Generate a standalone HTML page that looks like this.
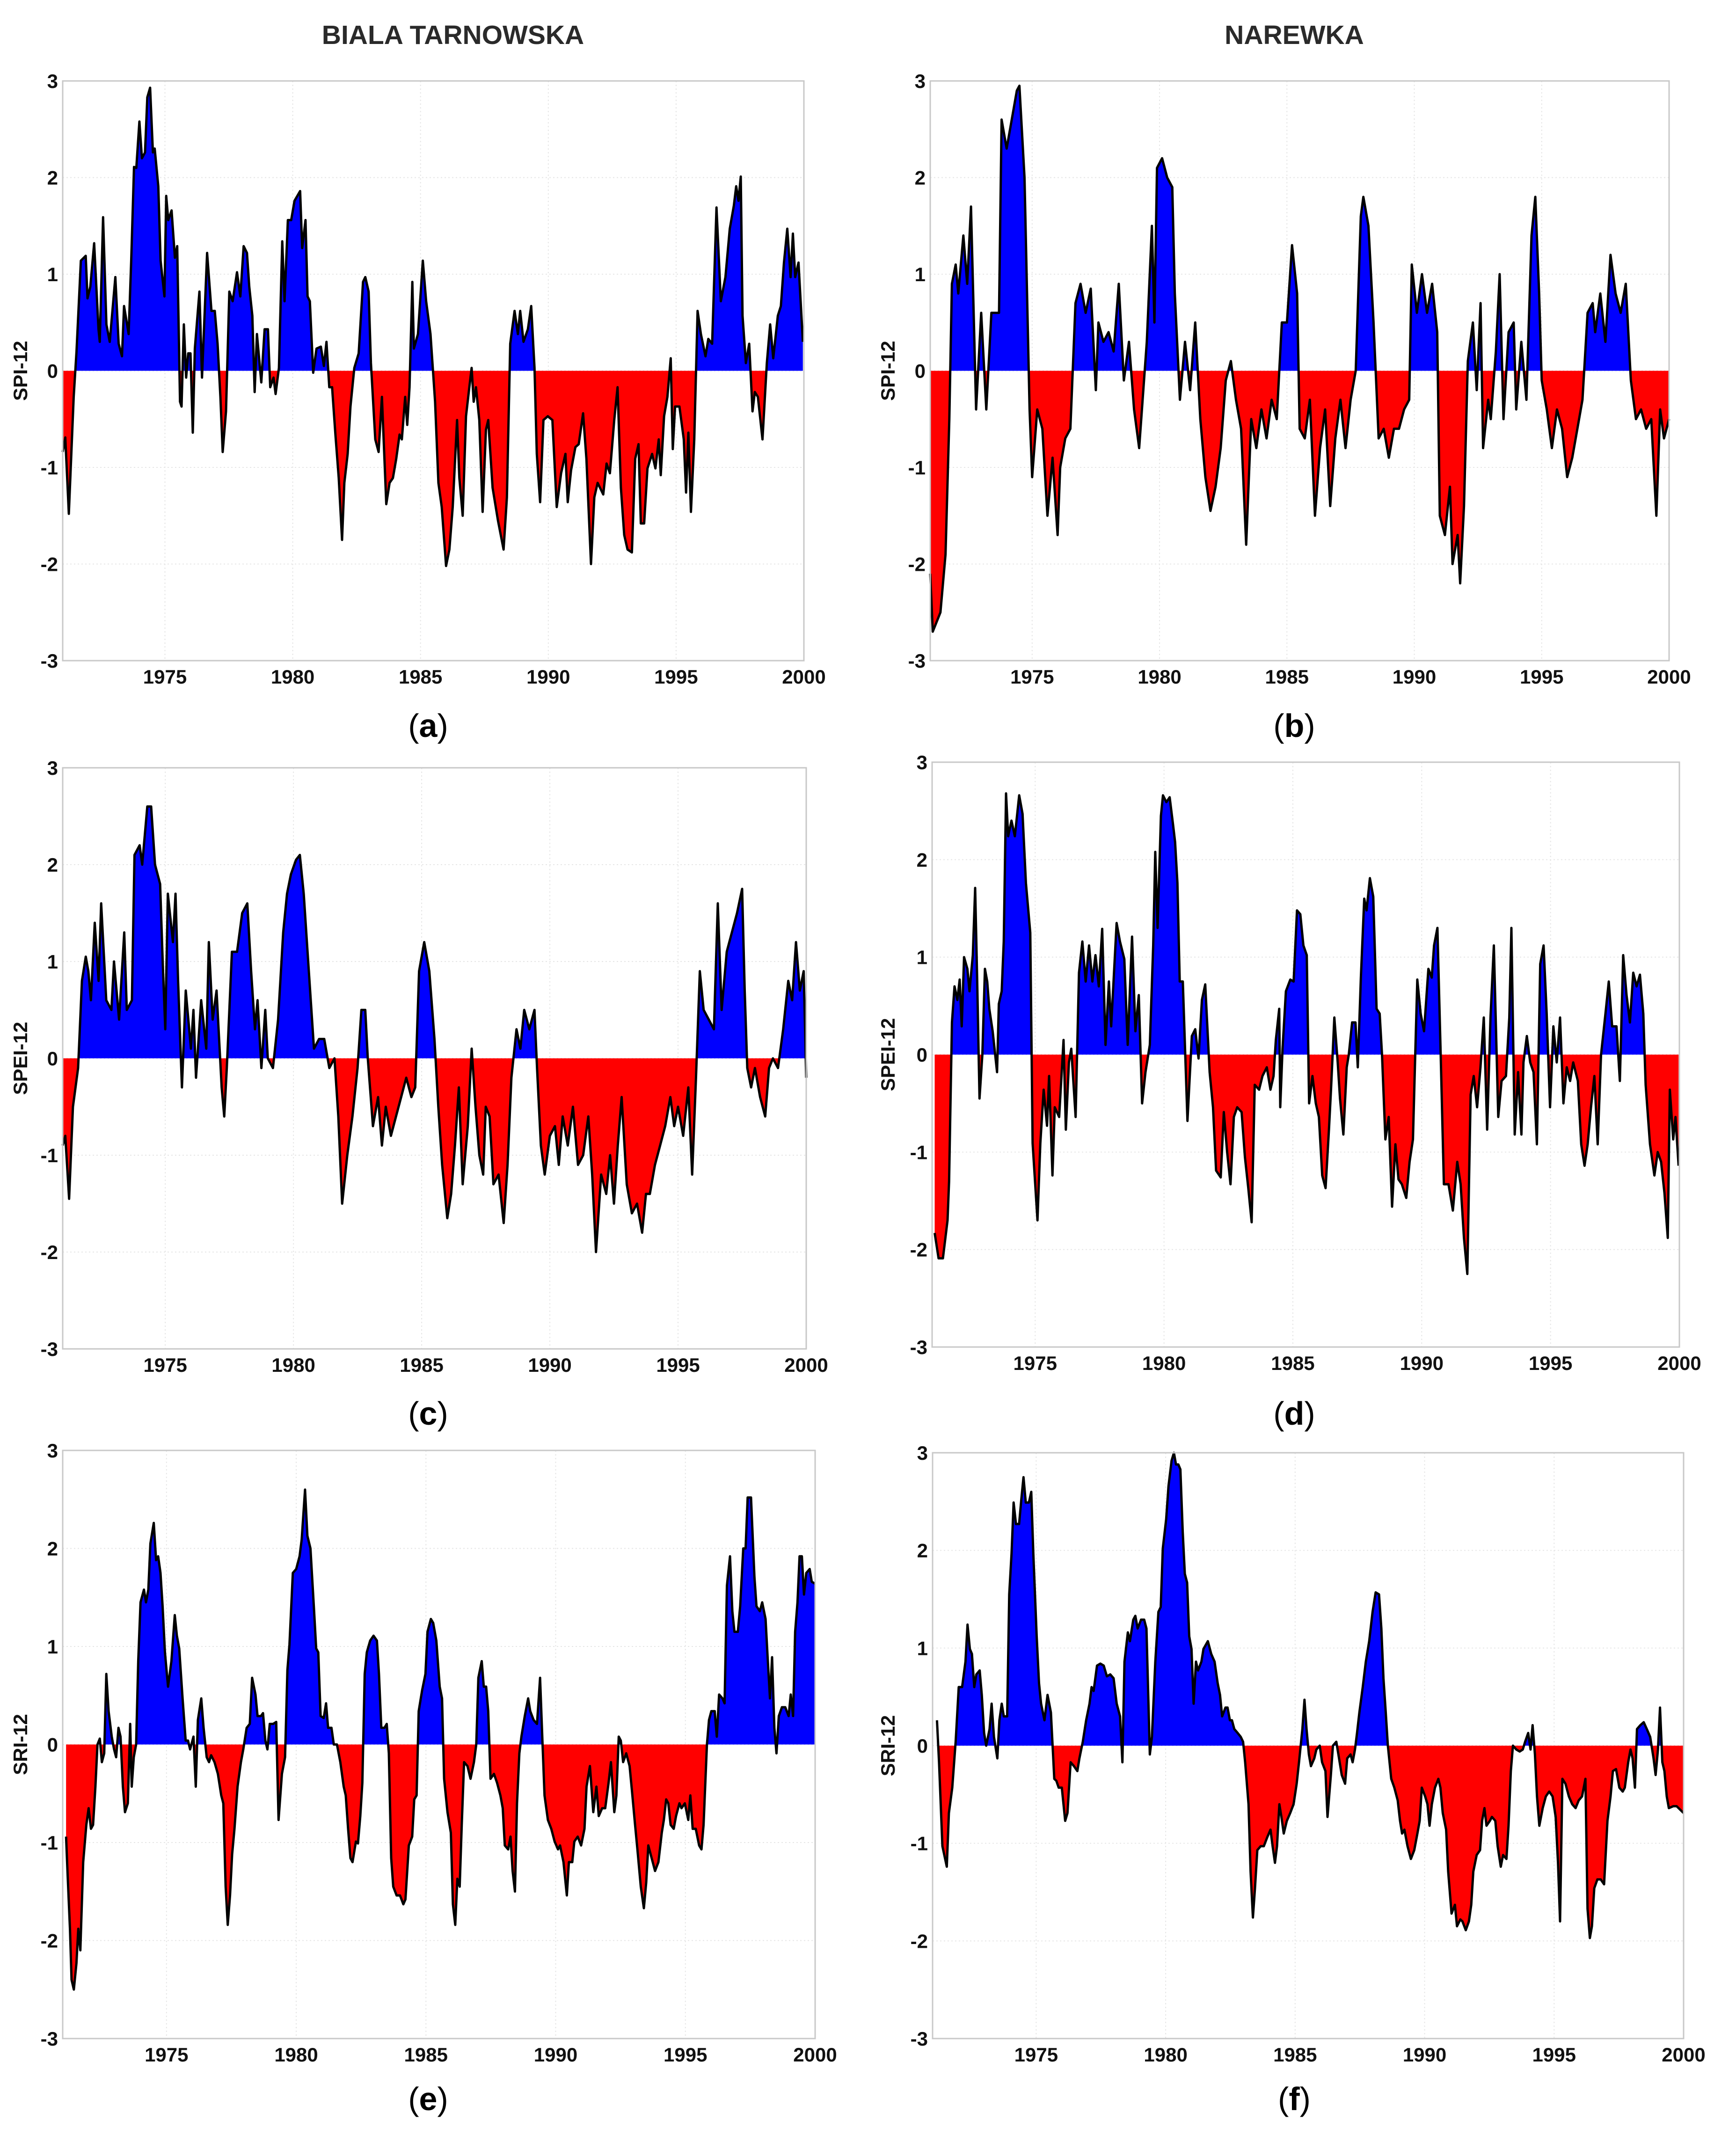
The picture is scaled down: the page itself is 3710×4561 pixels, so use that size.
<!DOCTYPE html>
<html><head><meta charset="utf-8">
<style>
html,body{margin:0;padding:0;background:#fff;}
svg{display:block;}
text{font-family:"Liberation Sans",Arial,sans-serif;}
</style></head>
<body>
<svg id="fig" width="3710" height="4561" viewBox="0 0 3710 4561" xmlns="http://www.w3.org/2000/svg">
<rect x="0" y="0" width="3710" height="4561" fill="#fff"/>
<text x="968" y="94" text-anchor="middle" font-size="57" font-weight="bold" fill="#2a2a2a">BIALA TARNOWSKA</text>
<text x="2766" y="94" text-anchor="middle" font-size="57" font-weight="bold" fill="#2a2a2a">NAREWKA</text>
</svg>
<script>
// ---- data (time in decimal years, index values) ----
const aT=[1971.0,1971.1,1971.24,1971.43,1971.54,1971.71,1971.9,1971.97,1972.08,1972.23,1972.4,1972.45,1972.58,1972.71,1972.84,1973.06,1973.19,1973.32,1973.4,1973.58,1973.68,1973.79,1973.88,1974.0,1974.1,1974.22,1974.31,1974.42,1974.53,1974.6,1974.74,1974.83,1974.98,1975.05,1975.13,1975.26,1975.39,1975.48,1975.59,1975.65,1975.74,1975.83,1975.91,1976.0,1976.09,1976.17,1976.35,1976.45,1976.65,1976.82,1976.95,1977.06,1977.17,1977.26,1977.39,1977.52,1977.65,1977.82,1977.95,1978.08,1978.21,1978.3,1978.42,1978.51,1978.6,1978.77,1978.9,1979.03,1979.12,1979.25,1979.33,1979.46,1979.59,1979.68,1979.81,1979.94,1980.07,1980.29,1980.37,1980.5,1980.58,1980.67,1980.8,1980.93,1981.1,1981.22,1981.32,1981.43,1981.54,1981.67,1981.8,1981.93,1982.02,1982.15,1982.26,1982.41,1982.58,1982.75,1982.84,1982.97,1983.06,1983.23,1983.36,1983.49,1983.66,1983.79,1983.92,1984.05,1984.18,1984.27,1984.4,1984.48,1984.57,1984.68,1984.74,1984.9,1985.09,1985.22,1985.39,1985.57,1985.7,1985.83,1986.0,1986.13,1986.26,1986.43,1986.52,1986.65,1986.78,1986.91,1987.0,1987.08,1987.17,1987.3,1987.43,1987.56,1987.65,1987.82,1988.03,1988.25,1988.38,1988.51,1988.68,1988.81,1988.9,1989.03,1989.2,1989.33,1989.46,1989.55,1989.68,1989.81,1989.98,1990.16,1990.33,1990.5,1990.67,1990.76,1990.89,1991.06,1991.19,1991.36,1991.49,1991.67,1991.8,1991.93,1992.15,1992.28,1992.41,1992.58,1992.71,1992.84,1992.97,1993.1,1993.27,1993.4,1993.53,1993.62,1993.75,1993.88,1994.06,1994.19,1994.32,1994.4,1994.53,1994.66,1994.79,1994.87,1994.96,1995.13,1995.3,1995.39,1995.48,1995.58,1995.71,1995.84,1995.97,1996.15,1996.26,1996.41,1996.58,1996.75,1996.93,1997.1,1997.26,1997.35,1997.44,1997.53,1997.6,1997.73,1997.86,1997.99,1998.08,1998.2,1998.38,1998.55,1998.68,1998.8,1998.98,1999.1,1999.22,1999.35,1999.48,1999.57,1999.66,1999.79,1999.96];
const aV=[-0.84,-0.69,-1.48,-0.27,0.2,1.14,1.19,0.75,0.87,1.32,0.43,0.3,1.59,0.48,0.3,0.97,0.28,0.15,0.67,0.38,1.14,2.11,2.1,2.58,2.2,2.26,2.83,2.93,2.26,2.3,1.91,1.14,0.77,1.81,1.56,1.66,1.17,1.29,-0.32,-0.37,0.48,-0.07,0.18,0.18,-0.64,0.23,0.82,-0.07,1.22,0.62,0.62,0.28,-0.27,-0.84,-0.42,0.82,0.72,1.02,0.77,1.29,1.22,0.87,0.57,-0.22,0.38,-0.12,0.43,0.43,-0.17,-0.07,-0.24,0.03,1.34,0.72,1.56,1.56,1.76,1.86,1.27,1.56,0.77,0.72,-0.02,0.23,0.25,0.05,0.3,-0.17,-0.17,-0.66,-1.11,-1.75,-1.16,-0.86,-0.37,0.03,0.18,0.92,0.97,0.82,0.08,-0.71,-0.84,-0.27,-1.38,-1.16,-1.11,-0.91,-0.66,-0.71,-0.27,-0.56,-0.17,0.92,0.23,0.38,1.14,0.72,0.38,-0.32,-1.16,-1.41,-2.02,-1.85,-1.41,-0.51,-1.11,-1.5,-0.47,-0.17,0.03,-0.32,-0.17,-0.51,-1.46,-0.61,-0.51,-1.21,-1.55,-1.85,-1.31,0.28,0.62,0.38,0.62,0.3,0.43,0.67,0.03,-0.86,-1.36,-0.51,-0.47,-0.51,-1.41,-1.06,-0.86,-1.36,-1.03,-0.79,-0.76,-0.44,-0.91,-2.0,-1.31,-1.16,-1.28,-0.96,-1.06,-0.51,-0.17,-1.21,-1.7,-1.85,-1.88,-0.91,-0.76,-1.58,-1.58,-1.01,-0.86,-1.01,-0.71,-1.08,-0.47,-0.27,0.13,-0.81,-0.37,-0.37,-0.71,-1.26,-0.64,-1.46,-0.71,0.62,0.38,0.15,0.33,0.28,1.69,0.72,0.97,1.47,1.71,1.91,1.76,2.01,0.57,0.08,0.28,-0.42,-0.22,-0.27,-0.71,0.08,0.48,0.13,0.57,0.67,1.12,1.47,0.97,1.42,0.97,1.12,0.3];

const bT=[1971.0,1971.1,1971.4,1971.6,1971.75,1971.85,1972.0,1972.1,1972.3,1972.45,1972.6,1972.8,1973.0,1973.2,1973.4,1973.7,1973.8,1974.0,1974.2,1974.4,1974.5,1974.7,1974.9,1975.0,1975.2,1975.4,1975.6,1975.8,1976.0,1976.1,1976.3,1976.5,1976.7,1976.9,1977.1,1977.3,1977.5,1977.6,1977.8,1978.0,1978.2,1978.4,1978.6,1978.8,1979.0,1979.2,1979.5,1979.7,1979.8,1979.9,1980.1,1980.3,1980.5,1980.6,1980.8,1981.0,1981.2,1981.4,1981.6,1981.8,1982.0,1982.2,1982.4,1982.6,1982.8,1983.0,1983.2,1983.4,1983.6,1983.8,1984.0,1984.2,1984.4,1984.6,1984.8,1985.0,1985.2,1985.4,1985.5,1985.7,1985.9,1986.1,1986.3,1986.5,1986.7,1986.9,1987.1,1987.3,1987.5,1987.7,1987.9,1988.0,1988.2,1988.4,1988.6,1988.8,1989.0,1989.2,1989.4,1989.6,1989.8,1989.9,1990.1,1990.3,1990.5,1990.7,1990.9,1991.0,1991.2,1991.4,1991.5,1991.7,1991.8,1991.95,1992.1,1992.3,1992.45,1992.6,1992.7,1992.9,1993.0,1993.2,1993.35,1993.5,1993.7,1993.9,1994.0,1994.2,1994.4,1994.6,1994.75,1994.9,1995.0,1995.2,1995.4,1995.6,1995.8,1996.0,1996.2,1996.4,1996.6,1996.8,1997.0,1997.1,1997.3,1997.5,1997.7,1997.9,1998.1,1998.3,1998.5,1998.7,1998.9,1999.1,1999.3,1999.5,1999.65,1999.8,2000.0];
const bV=[-2.1,-2.7,-2.5,-1.9,-0.5,0.9,1.1,0.8,1.4,0.9,1.7,-0.4,0.6,-0.4,0.6,0.6,2.6,2.3,2.6,2.9,2.95,2.0,-0.4,-1.1,-0.4,-0.6,-1.5,-0.9,-1.7,-1.0,-0.7,-0.6,0.7,0.9,0.6,0.85,-0.2,0.5,0.3,0.4,0.2,0.9,-0.1,0.3,-0.4,-0.8,0.3,1.5,0.5,2.1,2.2,2.0,1.9,0.8,-0.3,0.3,-0.2,0.5,-0.5,-1.1,-1.45,-1.2,-0.8,-0.1,0.1,-0.3,-0.6,-1.8,-0.5,-0.8,-0.4,-0.7,-0.3,-0.5,0.5,0.5,1.3,0.8,-0.6,-0.7,-0.3,-1.5,-0.8,-0.4,-1.4,-0.7,-0.3,-0.8,-0.3,0.0,1.6,1.8,1.5,0.5,-0.7,-0.6,-0.9,-0.6,-0.6,-0.4,-0.3,1.1,0.6,1.0,0.6,0.9,0.4,-1.5,-1.7,-1.2,-2.0,-1.7,-2.2,-1.4,0.1,0.5,-0.2,0.7,-0.8,-0.3,-0.5,0.2,1.0,-0.5,0.4,0.5,-0.4,0.3,-0.3,1.4,1.8,0.8,-0.1,-0.4,-0.8,-0.4,-0.6,-1.1,-0.9,-0.6,-0.3,0.6,0.7,0.4,0.8,0.3,1.2,0.8,0.6,0.9,-0.1,-0.5,-0.4,-0.6,-0.5,-1.5,-0.4,-0.7,-0.5];

const cT=[1971.0,1971.1,1971.25,1971.4,1971.6,1971.75,1971.9,1972.0,1972.1,1972.25,1972.4,1972.5,1972.7,1972.9,1973.0,1973.2,1973.4,1973.5,1973.7,1973.8,1974.0,1974.1,1974.3,1974.45,1974.6,1974.8,1974.9,1975.0,1975.1,1975.3,1975.4,1975.5,1975.65,1975.8,1976.0,1976.1,1976.2,1976.4,1976.6,1976.7,1976.85,1977.0,1977.2,1977.3,1977.4,1977.6,1977.8,1978.0,1978.2,1978.35,1978.5,1978.6,1978.75,1978.9,1979.0,1979.2,1979.4,1979.6,1979.75,1979.9,1980.1,1980.25,1980.4,1980.6,1980.8,1981.0,1981.2,1981.4,1981.6,1981.75,1981.9,1982.1,1982.3,1982.5,1982.65,1982.8,1982.9,1983.1,1983.3,1983.45,1983.6,1983.8,1984.0,1984.2,1984.4,1984.6,1984.75,1984.9,1985.1,1985.3,1985.5,1985.65,1985.8,1986.0,1986.15,1986.3,1986.45,1986.6,1986.8,1986.95,1987.1,1987.25,1987.4,1987.5,1987.65,1987.8,1988.0,1988.2,1988.35,1988.5,1988.7,1988.85,1989.0,1989.2,1989.4,1989.5,1989.65,1989.8,1990.0,1990.2,1990.35,1990.5,1990.7,1990.9,1991.1,1991.3,1991.5,1991.65,1991.8,1992.0,1992.2,1992.35,1992.5,1992.65,1992.8,1993.0,1993.2,1993.4,1993.6,1993.75,1993.9,1994.1,1994.3,1994.5,1994.7,1994.85,1995.0,1995.2,1995.4,1995.55,1995.7,1995.85,1996.0,1996.2,1996.4,1996.55,1996.7,1996.9,1997.1,1997.3,1997.5,1997.6,1997.7,1997.85,1998.0,1998.2,1998.4,1998.55,1998.7,1998.9,1999.1,1999.3,1999.45,1999.6,1999.75,1999.9,2000.0];
const cV=[-0.9,-0.8,-1.45,-0.5,-0.1,0.8,1.05,0.9,0.6,1.4,0.8,1.6,0.6,0.5,1.0,0.4,1.3,0.5,0.6,2.1,2.2,2.0,2.6,2.6,2.0,1.8,1.0,0.3,1.7,1.2,1.7,0.8,-0.3,0.7,0.1,0.5,-0.2,0.6,0.1,1.2,0.4,0.7,-0.3,-0.6,-0.1,1.1,1.1,1.5,1.6,0.9,0.3,0.6,-0.1,0.5,0.0,-0.1,0.4,1.3,1.7,1.9,2.05,2.1,1.7,0.9,0.1,0.2,0.2,-0.1,0.0,-0.6,-1.5,-1.0,-0.6,-0.1,0.5,0.5,0.0,-0.7,-0.4,-0.9,-0.5,-0.8,-0.6,-0.4,-0.2,-0.4,-0.3,0.9,1.2,0.9,0.2,-0.5,-1.1,-1.65,-1.4,-0.9,-0.3,-1.3,-0.7,0.1,-0.5,-1.0,-1.2,-0.5,-0.6,-1.3,-1.2,-1.7,-1.1,-0.2,0.3,0.1,0.5,0.3,0.5,-0.1,-0.9,-1.2,-0.8,-0.7,-1.1,-0.6,-0.9,-0.5,-1.1,-1.0,-0.6,-1.2,-2.0,-1.2,-1.4,-1.0,-1.5,-0.9,-0.4,-1.3,-1.6,-1.5,-1.8,-1.4,-1.4,-1.1,-0.9,-0.7,-0.4,-0.7,-0.5,-0.8,-0.3,-1.2,-0.2,0.9,0.5,0.4,0.3,1.6,0.5,1.1,1.3,1.5,1.75,0.7,-0.1,-0.3,-0.1,-0.4,-0.6,-0.1,0.0,-0.1,0.3,0.8,0.6,1.2,0.7,0.9,-0.2];

const dT=[1971.1,1971.25,1971.42,1971.6,1971.66,1971.77,1971.87,1971.98,1972.07,1972.15,1972.24,1972.37,1972.45,1972.58,1972.67,1972.75,1972.84,1972.95,1973.05,1973.14,1973.22,1973.35,1973.52,1973.59,1973.7,1973.78,1973.87,1973.95,1974.08,1974.21,1974.38,1974.51,1974.64,1974.81,1974.9,1975.09,1975.2,1975.33,1975.46,1975.54,1975.67,1975.76,1975.93,1976.1,1976.19,1976.31,1976.4,1976.57,1976.7,1976.83,1976.96,1977.09,1977.22,1977.34,1977.47,1977.6,1977.73,1977.86,1977.95,1978.16,1978.29,1978.46,1978.59,1978.76,1978.89,1979.02,1979.15,1979.28,1979.45,1979.58,1979.66,1979.75,1979.88,1979.96,1980.09,1980.22,1980.35,1980.43,1980.52,1980.61,1980.73,1980.91,1981.08,1981.21,1981.34,1981.47,1981.6,1981.77,1981.9,1982.02,1982.2,1982.32,1982.45,1982.58,1982.71,1982.84,1983.01,1983.14,1983.27,1983.4,1983.52,1983.69,1983.82,1983.99,1984.13,1984.25,1984.34,1984.47,1984.51,1984.6,1984.73,1984.9,1985.03,1985.16,1985.29,1985.41,1985.54,1985.63,1985.76,1985.89,1986.01,1986.14,1986.27,1986.4,1986.48,1986.61,1986.74,1986.83,1986.96,1987.09,1987.17,1987.3,1987.43,1987.52,1987.64,1987.77,1987.86,1987.99,1988.12,1988.25,1988.37,1988.46,1988.59,1988.72,1988.85,1988.98,1989.1,1989.23,1989.4,1989.53,1989.66,1989.75,1989.83,1989.96,1990.09,1990.26,1990.39,1990.48,1990.61,1990.74,1990.86,1991.04,1991.21,1991.38,1991.51,1991.64,1991.77,1991.9,1992.02,1992.15,1992.28,1992.41,1992.54,1992.67,1992.8,1992.97,1993.1,1993.27,1993.4,1993.48,1993.61,1993.74,1993.87,1993.95,1994.08,1994.21,1994.34,1994.47,1994.6,1994.73,1994.85,1994.98,1995.11,1995.24,1995.37,1995.5,1995.63,1995.76,1995.88,1996.06,1996.19,1996.32,1996.44,1996.57,1996.7,1996.83,1996.96,1997.13,1997.26,1997.39,1997.56,1997.69,1997.82,1997.95,1998.08,1998.21,1998.34,1998.47,1998.6,1998.69,1998.86,1999.03,1999.16,1999.29,1999.42,1999.55,1999.63,1999.76,1999.85,1999.97];
const dV=[-1.83,-2.09,-2.09,-1.7,-1.3,0.33,0.7,0.56,0.77,0.29,1.0,0.88,0.65,1.02,1.71,0.75,-0.45,0.0,0.88,0.75,0.47,0.24,-0.18,0.52,0.65,1.16,2.68,2.24,2.4,2.24,2.66,2.47,1.76,1.25,-0.91,-1.7,-0.91,-0.36,-0.73,-0.22,-1.24,-0.54,-0.64,0.15,-0.77,-0.08,0.06,-0.64,0.84,1.16,0.75,1.12,0.75,1.02,0.7,1.29,0.1,0.75,0.29,1.35,1.16,0.98,0.1,1.21,0.24,0.61,-0.5,-0.18,0.1,1.12,2.08,1.3,2.45,2.66,2.59,2.64,2.36,2.18,1.76,0.75,0.75,-0.68,0.19,0.26,-0.04,0.56,0.72,-0.18,-0.54,-1.19,-1.26,-0.59,-1.0,-1.33,-0.64,-0.54,-0.59,-1.05,-1.37,-1.72,-0.31,-0.36,-0.22,-0.13,-0.36,-0.22,0.15,0.47,-0.54,0.06,0.65,0.77,0.75,1.48,1.44,1.12,1.02,-0.5,-0.22,-0.5,-0.64,-1.24,-1.37,-0.77,-0.36,0.38,-0.08,-0.45,-0.82,-0.13,0.0,0.33,0.33,-0.13,0.79,1.6,1.48,1.81,1.62,0.47,0.42,0.0,-0.87,-0.64,-1.56,-0.92,-1.28,-1.33,-1.47,-1.1,-0.87,0.0,0.77,0.42,0.24,0.88,0.79,1.12,1.3,-0.04,-1.33,-1.33,-1.6,-1.1,-1.33,-1.88,-2.25,-0.41,-0.22,-0.54,-0.13,0.38,-0.77,0.38,1.12,-0.64,-0.27,-0.22,0.38,1.3,-0.82,-0.18,-0.82,-0.08,0.19,-0.08,-0.18,-0.92,0.93,1.12,0.42,-0.54,0.29,-0.08,0.38,-0.5,-0.13,-0.27,-0.08,-0.27,-0.92,-1.14,-0.92,-0.54,-0.22,-0.92,0.0,0.42,0.75,0.29,0.29,-0.27,1.02,0.61,0.33,0.84,0.7,0.82,0.42,-0.31,-0.92,-1.24,-1.0,-1.1,-1.42,-1.88,-0.36,-0.87,-0.64,-1.14];

const eT=[1971.13,1971.19,1971.28,1971.34,1971.43,1971.53,1971.6,1971.68,1971.79,1971.91,1972.0,1972.09,1972.17,1972.26,1972.34,1972.43,1972.51,1972.6,1972.68,1972.77,1972.89,1972.98,1973.06,1973.15,1973.23,1973.32,1973.4,1973.51,1973.6,1973.66,1973.74,1973.83,1973.91,1974.0,1974.13,1974.21,1974.3,1974.38,1974.51,1974.6,1974.68,1974.77,1974.85,1974.94,1975.06,1975.19,1975.32,1975.4,1975.49,1975.62,1975.74,1975.83,1975.91,1976.04,1976.13,1976.21,1976.34,1976.43,1976.55,1976.64,1976.72,1976.85,1976.98,1977.11,1977.19,1977.28,1977.36,1977.45,1977.53,1977.62,1977.74,1977.87,1977.96,1978.09,1978.21,1978.3,1978.43,1978.51,1978.64,1978.72,1978.81,1978.89,1978.98,1979.11,1979.23,1979.32,1979.45,1979.57,1979.66,1979.74,1979.87,1980.0,1980.13,1980.21,1980.34,1980.43,1980.55,1980.68,1980.77,1980.85,1980.94,1981.06,1981.15,1981.23,1981.36,1981.45,1981.57,1981.7,1981.83,1981.91,1982.0,1982.09,1982.17,1982.3,1982.38,1982.47,1982.55,1982.64,1982.72,1982.85,1982.98,1983.11,1983.19,1983.28,1983.4,1983.49,1983.57,1983.66,1983.74,1983.87,1984.0,1984.13,1984.21,1984.34,1984.47,1984.55,1984.64,1984.72,1984.85,1984.98,1985.06,1985.19,1985.28,1985.4,1985.53,1985.62,1985.7,1985.83,1985.96,1986.04,1986.13,1986.21,1986.3,1986.38,1986.47,1986.6,1986.72,1986.85,1986.94,1987.02,1987.15,1987.23,1987.32,1987.4,1987.49,1987.62,1987.74,1987.87,1987.96,1988.04,1988.17,1988.26,1988.34,1988.43,1988.51,1988.6,1988.68,1988.81,1988.94,1989.02,1989.15,1989.28,1989.4,1989.49,1989.57,1989.7,1989.83,1989.96,1990.09,1990.17,1990.3,1990.43,1990.51,1990.64,1990.72,1990.85,1990.98,1991.11,1991.19,1991.32,1991.45,1991.57,1991.66,1991.79,1991.91,1992.04,1992.13,1992.26,1992.34,1992.43,1992.51,1992.6,1992.72,1992.85,1992.94,1993.06,1993.15,1993.28,1993.4,1993.49,1993.57,1993.7,1993.83,1993.96,1994.09,1994.17,1994.26,1994.34,1994.43,1994.55,1994.64,1994.77,1994.85,1994.98,1995.11,1995.19,1995.28,1995.4,1995.53,1995.62,1995.7,1995.83,1995.91,1996.0,1996.13,1996.21,1996.3,1996.43,1996.51,1996.6,1996.72,1996.81,1996.89,1997.02,1997.11,1997.23,1997.32,1997.4,1997.53,1997.66,1997.74,1997.87,1997.96,1998.09,1998.17,1998.26,1998.34,1998.43,1998.51,1998.6,1998.72,1998.85,1998.98,1999.06,1999.15,1999.23,1999.32,1999.4,1999.49,1999.57,1999.66,1999.79,1999.87,2000.0];
const eV=[-0.94,-1.33,-1.88,-2.4,-2.5,-2.23,-1.88,-2.1,-1.2,-0.82,-0.65,-0.86,-0.82,-0.43,0.0,0.06,-0.18,-0.09,0.72,0.34,0.08,-0.05,-0.13,0.17,0.08,-0.43,-0.69,-0.6,0.21,-0.43,-0.13,0.0,0.85,1.45,1.58,1.45,1.58,2.05,2.26,1.88,1.92,1.75,1.41,0.94,0.59,0.85,1.32,1.11,0.98,0.47,0.04,0.04,-0.05,0.08,-0.43,0.25,0.47,0.17,-0.13,-0.18,-0.11,-0.18,-0.3,-0.52,-0.6,-1.45,-1.84,-1.54,-1.12,-0.86,-0.43,-0.18,-0.05,0.17,0.21,0.68,0.51,0.29,0.29,0.32,0.04,-0.05,0.21,0.21,0.23,-0.77,-0.3,-0.13,0.76,1.02,1.75,1.79,1.92,2.09,2.6,2.13,2.0,1.41,0.98,0.94,0.29,0.27,0.42,0.17,0.17,0.0,0.0,-0.18,-0.43,-0.52,-0.86,-1.16,-1.2,-0.99,-1.01,-0.73,-0.39,0.72,0.94,1.06,1.11,1.06,0.72,0.17,0.17,0.21,-0.09,-1.16,-1.45,-1.54,-1.54,-1.63,-1.58,-1.03,-0.94,-0.56,-0.52,0.34,0.55,0.72,1.15,1.28,1.24,1.06,0.59,0.47,-0.35,-0.69,-0.9,-1.63,-1.84,-1.37,-1.45,-0.82,-0.18,-0.22,-0.35,-0.18,0.0,0.68,0.85,0.59,0.59,0.34,-0.35,-0.3,-0.39,-0.52,-0.65,-1.03,-1.07,-0.94,-1.29,-1.5,-0.6,-0.09,0.08,0.29,0.47,0.34,0.25,0.21,0.68,0.04,-0.52,-0.77,-0.86,-0.99,-1.07,-1.03,-1.2,-1.54,-1.2,-1.2,-0.99,-0.94,-1.03,-0.86,-0.43,-0.22,-0.69,-0.43,-0.73,-0.65,-0.65,-0.39,-0.18,-0.69,-0.52,0.08,0.04,-0.18,-0.09,-0.22,-0.47,-0.82,-1.07,-1.45,-1.67,-1.41,-1.03,-1.16,-1.29,-1.2,-0.9,-0.77,-0.56,-0.6,-0.82,-0.86,-0.73,-0.6,-0.65,-0.6,-0.77,-0.52,-0.86,-0.86,-1.03,-1.07,-0.82,0.0,0.25,0.34,0.34,0.08,0.51,0.47,0.42,1.62,1.92,1.36,1.15,1.15,1.41,2.0,2.0,2.52,2.52,1.71,1.41,1.36,1.45,1.28,0.89,0.47,0.89,0.17,-0.09,0.29,0.38,0.38,0.29,0.51,0.29,1.15,1.45,1.92,1.92,1.53,1.75,1.79,1.66,1.64];

const fT=[1971.17,1971.25,1971.38,1971.55,1971.63,1971.76,1971.89,1972.01,1972.14,1972.27,1972.35,1972.44,1972.52,1972.61,1972.69,1972.82,1972.9,1972.99,1973.07,1973.2,1973.28,1973.37,1973.5,1973.58,1973.67,1973.75,1973.88,1973.96,1974.05,1974.13,1974.22,1974.34,1974.43,1974.51,1974.6,1974.72,1974.81,1974.89,1975.02,1975.11,1975.19,1975.32,1975.44,1975.57,1975.7,1975.78,1975.87,1975.99,1976.12,1976.21,1976.33,1976.46,1976.59,1976.67,1976.8,1976.93,1977.06,1977.14,1977.22,1977.35,1977.48,1977.61,1977.73,1977.86,1977.99,1978.11,1978.24,1978.33,1978.41,1978.54,1978.62,1978.75,1978.83,1978.92,1979.05,1979.17,1979.26,1979.39,1979.47,1979.6,1979.72,1979.81,1979.89,1980.02,1980.11,1980.23,1980.32,1980.4,1980.49,1980.57,1980.66,1980.74,1980.83,1980.91,1981.0,1981.08,1981.17,1981.25,1981.38,1981.46,1981.63,1981.76,1981.89,1982.01,1982.1,1982.18,1982.31,1982.39,1982.48,1982.56,1982.65,1982.78,1982.9,1982.99,1983.07,1983.2,1983.28,1983.37,1983.45,1983.54,1983.67,1983.79,1983.92,1984.05,1984.13,1984.22,1984.3,1984.39,1984.47,1984.56,1984.68,1984.81,1984.94,1985.06,1985.15,1985.28,1985.36,1985.44,1985.53,1985.61,1985.74,1985.82,1985.95,1986.04,1986.17,1986.25,1986.38,1986.46,1986.59,1986.67,1986.8,1986.93,1987.01,1987.14,1987.22,1987.31,1987.39,1987.48,1987.61,1987.73,1987.86,1987.99,1988.11,1988.24,1988.33,1988.41,1988.5,1988.58,1988.71,1988.83,1988.96,1989.05,1989.13,1989.22,1989.34,1989.47,1989.6,1989.72,1989.81,1989.89,1990.02,1990.11,1990.19,1990.28,1990.4,1990.53,1990.61,1990.7,1990.83,1990.91,1991.04,1991.17,1991.25,1991.38,1991.46,1991.59,1991.71,1991.8,1991.88,1992.01,1992.14,1992.22,1992.31,1992.39,1992.52,1992.6,1992.73,1992.82,1992.94,1993.03,1993.16,1993.24,1993.33,1993.41,1993.54,1993.67,1993.79,1993.88,1994.0,1994.09,1994.17,1994.26,1994.34,1994.43,1994.56,1994.68,1994.81,1994.94,1995.06,1995.15,1995.23,1995.32,1995.44,1995.57,1995.7,1995.83,1995.95,1996.08,1996.21,1996.29,1996.38,1996.46,1996.55,1996.67,1996.8,1996.93,1997.06,1997.18,1997.27,1997.39,1997.52,1997.65,1997.73,1997.86,1997.95,1998.03,1998.12,1998.2,1998.33,1998.46,1998.58,1998.71,1998.84,1998.92,1999.01,1999.09,1999.18,1999.26,1999.35,1999.43,1999.6,1999.73,2000.0];
const fV=[0.26,-0.17,-1.03,-1.24,-0.69,-0.43,0.04,0.6,0.6,0.86,1.24,0.99,0.94,0.6,0.73,0.77,0.52,0.13,0.0,0.17,0.43,0.09,-0.13,0.26,0.43,0.3,0.3,1.55,1.97,2.49,2.27,2.27,2.53,2.75,2.49,2.49,2.6,1.97,1.12,0.64,0.43,0.26,0.52,0.34,-0.34,-0.36,-0.43,-0.43,-0.77,-0.69,-0.17,-0.21,-0.26,-0.13,0.04,0.26,0.43,0.6,0.56,0.82,0.84,0.82,0.71,0.73,0.69,0.43,0.3,-0.17,0.86,1.16,1.07,1.29,1.33,1.2,1.29,1.29,1.2,-0.09,0.09,0.86,1.37,1.42,2.02,2.32,2.66,2.92,3.0,2.88,2.88,2.83,2.19,1.76,1.67,1.12,0.99,0.43,0.86,0.77,0.86,0.99,1.07,0.94,0.86,0.64,0.52,0.3,0.39,0.39,0.26,0.26,0.17,0.13,0.09,0.04,-0.17,-0.6,-1.29,-1.76,-1.46,-1.07,-1.03,-1.03,-0.94,-0.86,-1.03,-1.2,-1.03,-0.6,-0.73,-0.9,-0.77,-0.69,-0.6,-0.39,-0.17,0.17,0.47,0.17,-0.09,-0.21,-0.13,-0.04,0.0,-0.17,-0.26,-0.73,-0.3,0.0,0.04,-0.09,-0.3,-0.39,-0.13,-0.09,-0.17,-0.04,0.13,0.34,0.6,0.86,1.07,1.37,1.57,1.55,1.2,0.69,0.34,0.0,-0.34,-0.43,-0.56,-0.77,-0.9,-0.86,-1.03,-1.16,-1.07,-0.9,-0.77,-0.43,-0.52,-0.6,-0.82,-0.6,-0.43,-0.34,-0.43,-0.69,-0.86,-1.29,-1.72,-1.63,-1.85,-1.78,-1.8,-1.89,-1.8,-1.63,-1.29,-1.12,-1.07,-0.77,-0.64,-0.82,-0.77,-0.73,-0.77,-1.03,-1.24,-1.12,-1.16,-0.82,-0.26,0.0,-0.04,-0.06,-0.04,0.04,0.13,-0.04,0.21,-0.09,-0.52,-0.82,-0.64,-0.52,-0.47,-0.52,-0.73,-1.2,-1.8,-0.34,-0.39,-0.52,-0.6,-0.64,-0.56,-0.52,-0.34,-1.67,-1.97,-1.85,-1.46,-1.37,-1.37,-1.42,-0.77,-0.52,-0.26,-0.24,-0.43,-0.47,-0.43,-0.17,-0.04,-0.13,-0.43,0.17,0.21,0.24,0.17,0.09,-0.13,-0.3,-0.04,0.39,-0.17,-0.26,-0.52,-0.64,-0.62,-0.62,-0.69];

const yTicks=[-3,-2,-1,0,1,2,3];
const xTicks=[1975,1980,1985,1990,1995,2000];
const xTickLabels=["1975","1980","1985","1990","1995","2000"];

const NS='http://www.w3.org/2000/svg';
const svg=document.getElementById('fig');
function mk(tag,attrs,parent){const e=document.createElementNS(NS,tag);for(const k in attrs)e.setAttribute(k,attrs[k]);(parent||svg).appendChild(e);return e;}

function panel(id,L,T,R,B,T0,V0,ylab,letter,lx,ly,ylx){
  const g=mk('g',{});
  
  
  const x=t=>L+(t-1971)/(2000-1971)*(R-L);
  const y=v=>B-(v+3)/6*(B-T);
  yTicks.forEach(v=>{const l=mk('line',{x1:L,x2:R,y1:y(v),y2:y(v),stroke:'#e6e6e6','stroke-width':2,'stroke-dasharray':'3 5'},g);
    
    });
  xTicks.forEach(t=>{const l=mk('line',{x1:x(t),x2:x(t),y1:T,y2:B,stroke:'#e6e6e6','stroke-width':2,'stroke-dasharray':'3 5'},g);
    
    });
  const defs=mk('defs',{},g);
  const cpU=mk('clipPath',{id:'cu'+id},defs);mk('rect',{x:L,y:T,width:R-L,height:y(0)-T},cpU);
  const cpD=mk('clipPath',{id:'cd'+id},defs);mk('rect',{x:L,y:y(0),width:R-L,height:B-y(0)},cpD);
  let d='M'+x(T0[0]).toFixed(1)+','+y(0).toFixed(1);
  let ld='';
  for(let i=0;i<T0.length;i++){const px=x(T0[i]).toFixed(1),py=y(V0[i]).toFixed(1);d+=' L'+px+','+py;ld+=(i?' L':'M')+px+','+py;}
  d+=' L'+x(T0[T0.length-1]).toFixed(1)+','+y(0).toFixed(1)+' Z';
  const up=mk('path',{d:d,fill:'#0000ff','clip-path':'url(#cu'+id+')'},g);
  
  
  const dn=mk('path',{d:d,fill:'#ff0000','clip-path':'url(#cd'+id+')'},g);
  
  
  const ln=mk('path',{d:ld,fill:'none',stroke:'#000','stroke-width':5,'stroke-linejoin':'round'},g);
  
  
  const fr=mk('rect',{x:L,y:T,width:R-L,height:B-T,fill:'none',stroke:'#c8c8c8','stroke-width':3},g);
  
  
  yTicks.forEach(v=>{const t=mk('text',{x:L-10,y:y(v)+15,'text-anchor':'end','font-size':42,'font-weight':'bold',fill:'#111'},g);t.textContent=String(v);
    
    });
  xTicks.forEach((tv,i)=>{const t=mk('text',{x:x(tv),y:B+49,'text-anchor':'middle','font-size':42,'font-weight':'bold',fill:'#111'},g);t.textContent=xTickLabels[i];
    
    });
  const yl=mk('text',{x:0,y:0,transform:'translate('+ylx+','+y(0)+') rotate(-90)','text-anchor':'middle','font-size':42,'font-weight':'bold',fill:'#111'},g);
  yl.textContent=ylab;
  
  
  const lt=mk('text',{x:lx,y:ly,'text-anchor':'middle','font-size':70,fill:'#000','font-family':'"Liberation Serif",serif'},g);
  
  
  lt.innerHTML='('+'<tspan font-weight="bold">'+letter+'</tspan>'+')';
}
panel('a',134,173,1718,1412,aT,aV,'SPI-12','a',915,1575,58);
panel('b',1988,173,3567,1412,bT,bV,'SPI-12','b',2766,1575,1912);
panel('c',134,1641,1723,2883,cT,cV,'SPEI-12','c',915,3045,58);
panel('d',1992,1629,3589,2879,dT,dV,'SPEI-12','d',2766,3045,1912);
panel('e',134,3100,1742,4357,eT,eV,'SRI-12','e',915,4510,58);
panel('f',1993,3105,3598,4357,fT,fV,'SRI-12','f',2766,4510,1912);
</script>
</body></html>
